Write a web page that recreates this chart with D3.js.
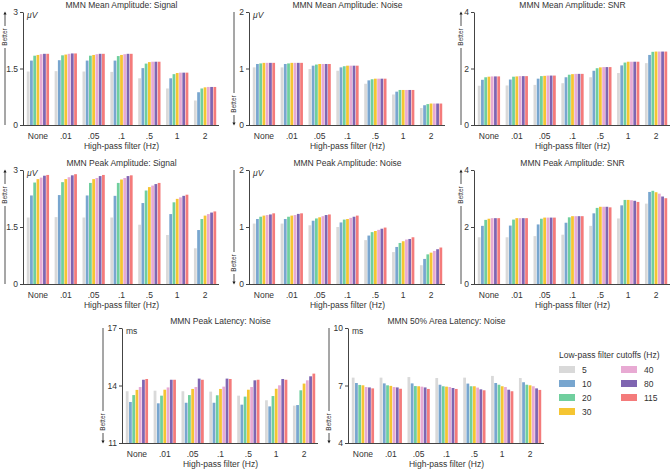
<!DOCTYPE html>
<html><head><meta charset="utf-8">
<script src="https://cdn.jsdelivr.net/npm/d3@7"></script>
<style>
body{margin:0;background:#fff;}
svg{display:block;font-family:"Liberation Sans",Arial,Helvetica,sans-serif;}
</style></head>
<body><svg id="c" width="672" height="470"></svg>
<script>
const categories = ["None", ".01", ".05", ".1", ".5", "1", "2"];
const lowpass = ["5", "10", "20", "30", "40", "80", "115"];
const colors = ["#d9d9d9", "#78a6cf", "#70cf9e", "#f5c532", "#e8aad3", "#7f65b1", "#f47b7b"];

// values per high-pass category, series order = lowpass
const meanSignal = [
  [1.42,1.71,1.84,1.86,1.88,1.89,1.89],
  [1.43,1.72,1.85,1.87,1.89,1.90,1.90],
  [1.42,1.71,1.84,1.86,1.88,1.89,1.89],
  [1.41,1.71,1.83,1.86,1.88,1.89,1.89],
  [1.24,1.51,1.63,1.67,1.68,1.68,1.68],
  [0.97,1.24,1.35,1.38,1.39,1.39,1.39],
  [0.65,0.87,0.97,1.00,1.01,1.01,1.01]];
const meanNoise = [
  [1.02,1.08,1.09,1.10,1.10,1.10,1.10],
  [1.02,1.08,1.09,1.10,1.10,1.10,1.10],
  [0.99,1.05,1.07,1.08,1.08,1.08,1.08],
  [0.96,1.02,1.04,1.05,1.05,1.05,1.05],
  [0.73,0.79,0.81,0.82,0.82,0.82,0.82],
  [0.54,0.59,0.62,0.62,0.62,0.62,0.62],
  [0.30,0.35,0.37,0.38,0.38,0.38,0.38]];
const meanSNR = [
  [1.39,1.60,1.69,1.71,1.72,1.72,1.72],
  [1.40,1.61,1.71,1.72,1.73,1.73,1.73],
  [1.42,1.64,1.73,1.74,1.75,1.75,1.75],
  [1.48,1.69,1.78,1.80,1.81,1.81,1.81],
  [1.69,1.92,2.01,2.04,2.05,2.05,2.05],
  [1.84,2.11,2.21,2.24,2.24,2.24,2.24],
  [2.19,2.48,2.59,2.60,2.60,2.60,2.60]];
const peakSignal = [
  [1.75,2.33,2.67,2.76,2.80,2.85,2.87],
  [1.76,2.34,2.68,2.76,2.81,2.86,2.89],
  [1.75,2.33,2.66,2.76,2.79,2.84,2.87],
  [1.75,2.32,2.66,2.75,2.79,2.84,2.86],
  [1.56,2.13,2.46,2.55,2.59,2.63,2.66],
  [1.29,1.84,2.15,2.24,2.28,2.32,2.35],
  [0.94,1.42,1.71,1.80,1.84,1.88,1.91]];
const peakNoise = [
  [1.06,1.14,1.18,1.20,1.21,1.22,1.24],
  [1.06,1.14,1.18,1.20,1.21,1.23,1.24],
  [1.03,1.11,1.15,1.17,1.19,1.21,1.22],
  [1.00,1.08,1.13,1.14,1.16,1.18,1.20],
  [0.77,0.85,0.91,0.93,0.95,0.97,0.99],
  [0.56,0.65,0.72,0.75,0.78,0.79,0.82],
  [0.33,0.44,0.52,0.55,0.58,0.61,0.64]];
const peakSNR = [
  [1.64,2.04,2.25,2.29,2.31,2.31,2.31],
  [1.64,2.05,2.26,2.31,2.31,2.31,2.31],
  [1.68,2.09,2.29,2.33,2.33,2.33,2.33],
  [1.73,2.15,2.34,2.38,2.38,2.38,2.38],
  [2.04,2.48,2.67,2.71,2.71,2.71,2.69],
  [2.30,2.76,2.95,2.95,2.94,2.92,2.88],
  [2.82,3.23,3.27,3.22,3.17,3.07,3.01]];
const peakLatency = [
  [13.70,13.14,13.50,13.77,13.92,14.30,14.34],
  [13.73,13.07,13.47,13.78,13.90,14.30,14.30],
  [13.70,13.10,13.50,13.82,13.92,14.36,14.30],
  [13.68,13.10,13.49,13.82,13.94,14.36,14.34],
  [13.47,13.00,13.42,13.78,13.92,14.27,14.30],
  [13.23,12.91,13.45,13.83,14.01,14.34,14.30],
  [12.95,12.98,13.75,14.10,14.27,14.48,14.62]];
const areaLatency = [
  [7.41,7.13,7.03,7.01,6.92,6.90,6.85],
  [7.41,7.11,7.01,6.98,6.92,6.90,6.83],
  [7.44,7.11,6.97,6.96,6.94,6.90,6.82],
  [7.39,7.04,6.96,6.94,6.92,6.87,6.82],
  [7.41,7.10,6.96,6.96,6.89,6.80,6.75],
  [7.50,7.13,7.04,6.96,6.92,6.78,6.70],
  [7.39,7.17,7.04,7.01,6.96,6.85,6.77]];

const titles = ["MMN Mean Amplitude: Signal","MMN Mean Amplitude: Noise","MMN Mean Amplitude: SNR",
  "MMN Peak Amplitude: Signal","MMN Peak Amplitude: Noise","MMN Peak Amplitude: SNR",
  "MMN Peak Latency: Noise","MMN 50% Area Latency: Noise"];
const yTicks = [[0,1.5,3],[0,1,2],[0,2,4],[0,1.5,3],[0,1,2],[0,2,4],[11,14,17],[4,7,10]];
const units = ["\u03bcV","\u03bcV","","\u03bcV","\u03bcV","","ms","ms"];
const betterDir = ["up","down","up","up","down","up","down","down"];
const xLabel = "High-pass filter (Hz)";
const legendTitle = "Low-pass filter cutoffs (Hz)";
const datasets = [meanSignal, meanNoise, meanSNR, peakSignal, peakNoise, peakSNR, peakLatency, areaLatency];

// layout
const layout = [
  {ax:23, top:12, bot:125, arrowX:5},
  {ax:249, top:12, bot:125, arrowX:234},
  {ax:474, top:12, bot:125, arrowX:461},
  {ax:23, top:170, bot:284, arrowX:5},
  {ax:249, top:170, bot:284, arrowX:234},
  {ax:474, top:170, bot:284, arrowX:461},
  {ax:122, top:328, bot:443, arrowX:103},
  {ax:348, top:328, bot:443, arrowX:329}
];
const PW = 195;
const svg = d3.select("#c");
const axisColor = "#444";
const textColor = "#333";

svg.append("defs").append("marker").attr("id","arr").attr("viewBox","0 0 10 10")
  .attr("refX",5).attr("refY",5).attr("markerWidth",4).attr("markerHeight",4)
  .attr("orient","auto-start-reverse")
  .append("path").attr("d","M0,0 L10,5 L0,10 z").attr("fill","#222");

datasets.forEach((data, i) => {
  const L = layout[i];
  const g = svg.append("g");
  const x = d3.scaleBand().domain(categories).range([L.ax+1, L.ax+1+PW]).paddingInner(0.2).paddingOuter(0.1);
  const xi = d3.scaleBand().domain(lowpass).range([0, x.bandwidth()]).paddingInner(0.15);
  const t = yTicks[i];
  const y = d3.scaleLinear().domain([t[0], t[t.length-1]]).range([L.bot, L.top]);

  categories.forEach((c, ci) => {
    g.selectAll(null).data(data[ci]).enter().append("rect")
      .attr("x", (d, si) => x(c) + xi(lowpass[si]))
      .attr("width", xi.bandwidth())
      .attr("y", d => y(d))
      .attr("height", d => y(t[0]) - y(d))
      .attr("fill", (d, si) => colors[si]);
  });

  const ya = d3.axisLeft(y).tickValues(t).tickSize(3).tickSizeOuter(0).tickPadding(2)
    .tickFormat(d => String(d));
  const yg = g.append("g").attr("transform", `translate(${L.ax},0)`).call(ya);
  yg.select(".domain").attr("stroke", axisColor);
  yg.selectAll(".tick line").attr("stroke", axisColor);
  yg.selectAll("text").attr("font-size", 8.5).attr("fill", textColor).attr("font-family", "inherit");

  const xa = d3.axisBottom(x).tickSize(0).tickPadding(8);
  const xg = g.append("g").attr("transform", `translate(0,${L.bot})`).call(xa);
  xg.select(".domain").remove();
  xg.selectAll("text").attr("font-size", 8.5).attr("fill", textColor).attr("font-family", "inherit");
  g.append("line").attr("x1", L.ax).attr("x2", L.ax+PW+1).attr("y1", L.bot+0.5).attr("y2", L.bot+0.5)
    .attr("stroke", axisColor);

  g.append("text").attr("x", L.ax + PW/2 + 1).attr("y", L.bot + 24)
    .attr("text-anchor","middle").attr("font-size", 8.5).attr("fill", textColor).text(xLabel);
  g.append("text").attr("x", L.ax + PW/2 + 1).attr("y", L.top - 4)
    .attr("text-anchor","middle").attr("font-size", 8.5).attr("fill", textColor).text(titles[i]);
  if (units[i]) {
    g.append("text").attr("x", L.ax + 4).attr("y", L.top + 6)
      .attr("font-size", 8.5).attr("fill", textColor)
      .attr("font-style", units[i] === "ms" ? "normal" : "italic").text(units[i]);
  }

  const up = betterDir[i] === "up";
  const line = g.append("line").attr("x1", L.arrowX).attr("x2", L.arrowX)
    .attr("stroke", "#222").attr("stroke-width", 0.8);
  if (up) {
    line.attr("y1", L.bot).attr("y2", L.top + 1).attr("marker-end", "url(#arr)");
  } else {
    line.attr("y1", L.top).attr("y2", L.bot - 1).attr("marker-end", "url(#arr)");
  }
  const ty = up ? L.top + 25 : L.bot - 21;
  g.append("rect").attr("x", L.arrowX - 4).attr("y", ty - 11).attr("width", 8).attr("height", 22).attr("fill", "#fff");
  g.append("text").attr("transform", `translate(${L.arrowX + 2.3},${ty}) rotate(-90)`)
    .attr("text-anchor","middle").attr("font-size", 6.5).attr("fill", textColor).text("Better");
});

const lg = svg.append("g");
lg.append("text").attr("x", 559).attr("y", 358).attr("font-size", 8.5).attr("fill", textColor).text(legendTitle);
lowpass.forEach((lp, i) => {
  const col = i < 4 ? 0 : 1;
  const row = i < 4 ? i : i - 4;
  const sx = col === 0 ? 559 : 621;
  const cy = 369.5 + row * 14;
  lg.append("rect").attr("x", sx).attr("y", cy - 3.5).attr("width", 16).attr("height", 7).attr("fill", colors[i]);
  lg.append("text").attr("x", sx + 23).attr("y", cy + 3).attr("font-size", 8.5).attr("fill", textColor).text(lp);
});
</script></body></html>
